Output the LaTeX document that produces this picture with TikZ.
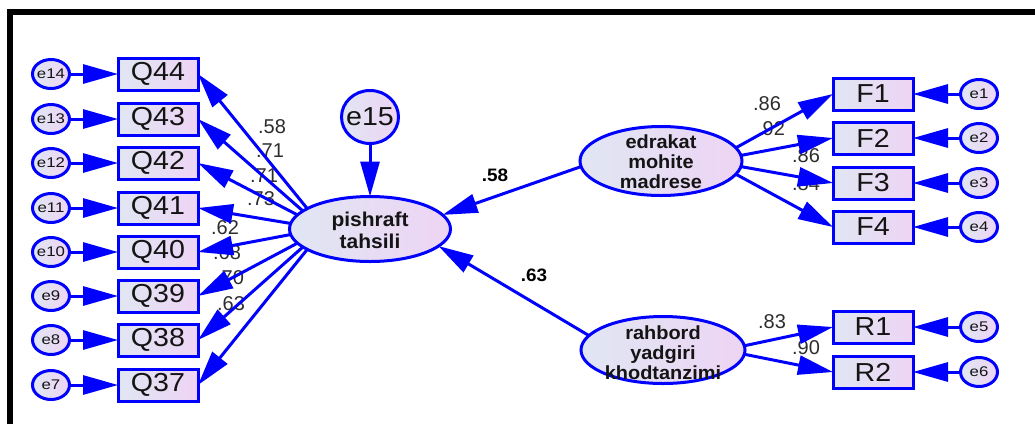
\documentclass[tikz,border=0pt]{standalone}
\usepackage{fontspec}
\setmainfont{Liberation Sans}
\newfontfamily\boxfont[FakeStretch=1.1]{Liberation Sans}
\newfontfamily\errfont[FakeStretch=1.2]{Liberation Sans}
\newfontfamily\latfont[FakeStretch=1.05]{Liberation Sans}
\usetikzlibrary{arrows.meta,shapes.geometric}
\definecolor{nodeL}{RGB}{224,230,243}
\definecolor{nodeR}{RGB}{238,212,244}
\definecolor{pathblue}{RGB}{0,0,255}
\definecolor{txt}{RGB}{20,20,20}
\definecolor{coef}{RGB}{45,45,45}
\begin{document}
\begin{tikzpicture}[x=1pt,y=-1pt,
  every node/.style={inner sep=0pt, outer sep=0pt},
  obs/.style={rectangle, draw=pathblue, line width=3pt, left color=nodeL, right color=nodeR,
    minimum width=80pt, minimum height=32pt, text=txt, font=\boxfont\fontsize{26}{26}\selectfont},
  err/.style={ellipse, draw=pathblue, line width=3pt, left color=nodeL, right color=nodeR,
    minimum width=37pt, minimum height=29pt, inner xsep=-6pt, text=txt, font=\errfont\fontsize{14}{14}\selectfont},
  bigerr/.style={ellipse, draw=pathblue, line width=3pt, left color=nodeL, right color=nodeR,
    minimum width=57pt, minimum height=53pt, inner xsep=-8pt, text=txt, font=\boxfont\fontsize{26}{26}\selectfont},
  lat/.style={ellipse, draw=pathblue, line width=3pt, left color=nodeL, right color=nodeR},
  lattext/.style={align=center, text=txt, font=\latfont\bfseries\fontsize{19}{20}\selectfont},
  arr/.style={draw=pathblue, line width=3pt, -{Triangle[length=35pt,width=19pt]}},
  coefl/.style={text=coef, font=\fontsize{20}{20}\selectfont},
  coefb/.style={text=black, font=\latfont\bfseries\fontsize{18}{18}\selectfont},
]
\useasboundingbox (0,0) rectangle (1035,424);
\fill[white] (0,0) rectangle (1035,424);
\draw[line width=6pt, line join=miter] (10,424) -- (10,12) -- (1035,12);

% coefficient labels (under the paths)
\node[coefl] (c44) at (272,127) {.58};
\node[coefl] (c43) at (270,151) {.71};
\node[coefl] (c42) at (264,176) {.71};
\node[coefl] (c41) at (261,199) {.73};
\node[coefl] (c40) at (225,228) {.62};
\node[coefl] (c39) at (227,253) {.68};
\node[coefl] (c38) at (230,278) {.70};
\node[coefl] (c37) at (231,304) {.63};
\node[coefl] (cf1) at (767,104) {.86};
\node[coefl] (cf2) at (771,129) {.92};
\node[coefl] (cf3) at (806,156) {.86};
\node[coefl] (cf4) at (806,184) {.84};
\node[coefl] (cr1) at (772,322) {.83};
\node[coefl] (cr2) at (806,348) {.90};
\node[coefb] (cs1) at (495,175) {.58};
\node[coefb] (cs2) at (534,275) {.63};

% observed variables, left
\node[obs] (Q44) at (158,74) {Q44};
\node[obs] (Q43) at (158,119) {Q43};
\node[obs] (Q42) at (158,163) {Q42};
\node[obs] (Q41) at (158,208) {Q41};
\node[obs] (Q40) at (158,252) {Q40};
\node[obs] (Q39) at (158,296) {Q39};
\node[obs] (Q38) at (158,340) {Q38};
\node[obs] (Q37) at (158,385) {Q37};
\node[err] (e14) at (51,74) {e14};
\node[err] (e13) at (51,119) {e13};
\node[err] (e12) at (51,163) {e12};
\node[err] (e11) at (51,208) {e11};
\node[err] (e10) at (51,252) {e10};
\node[err] (e9) at (51,296) {e9};
\node[err] (e8) at (51,340) {e8};
\node[err] (e7) at (51,385) {e7};

% observed variables, right
\node[obs] (F1) at (873,94) {F1};
\node[obs] (F2) at (873,138) {F2};
\node[obs] (F3) at (873,183) {F3};
\node[obs] (F4) at (873,227) {F4};
\node[obs] (R1) at (873,327) {R1};
\node[obs] (R2) at (873,372) {R2};
\node[err] (e1) at (979,94) {e1};
\node[err] (e2) at (979,138) {e2};
\node[err] (e3) at (979,183) {e3};
\node[err] (e4) at (979,227) {e4};
\node[err] (e5) at (979,327) {e5};
\node[err] (e6) at (979,372) {e6};

% latent variables
\node[bigerr] (e15) at (370,117) {e15};
\node[lat, minimum width=161pt, minimum height=65pt] (pt) at (370,229) {};
\node[lat, minimum width=162pt, minimum height=69pt] (ed) at (661,161) {};
\node[lat, minimum width=164pt, minimum height=67pt] (rb) at (663,350) {};
\node[lattext, font=\latfont\bfseries\fontsize{20}{22}\selectfont] (pt-lbl) at (370,230) {pishraft\\tahsili};
\node[lattext] (ed-lbl) at (661,162) {edrakat\\mohite\\madrese};
\node[lattext] (rb-lbl) at (663,353) {rahbord\\yadgiri\\khodtanzimi};

% error paths
\foreach \e/\q in {e14/Q44,e13/Q43,e12/Q42,e11/Q41,e10/Q40,e9/Q39,e8/Q38,e7/Q37,
                   e1/F1,e2/F2,e3/F3,e4/F4,e5/R1,e6/R2}
  \draw[arr] (\e) -- (\q);
\draw[arr] (e15) -- (pt);

% loadings
\draw[arr] (pt.162) -- (Q44.east);
\draw[arr] (pt.165) -- (Q43.east);
\draw[arr] (pt.169) -- (Q42.east);
\draw[arr] (pt.176) -- (Q41.east);
\draw[arr] (pt.184) -- (Q40.east);
\draw[arr] (pt.191) -- (Q39.east);
\draw[arr] (pt.195) -- (Q38.east);
\draw[arr] (pt.198) -- (Q37.east);
\draw[arr] (ed.10) -- (F1.west);
\draw[arr] (ed.4) -- (F2.west);
\draw[arr] (ed.-4) -- (F3.west);
\draw[arr] (ed.-10) -- (F4.west);
\draw[arr] (rb.3) -- (R1.west);
\draw[arr] (rb.-3) -- (R2.west);

% structural paths
\draw[arr] (ed.184) -- (pt.11);
\draw[arr] (rb.169) -- (pt.-14);
\end{tikzpicture}
\end{document}
